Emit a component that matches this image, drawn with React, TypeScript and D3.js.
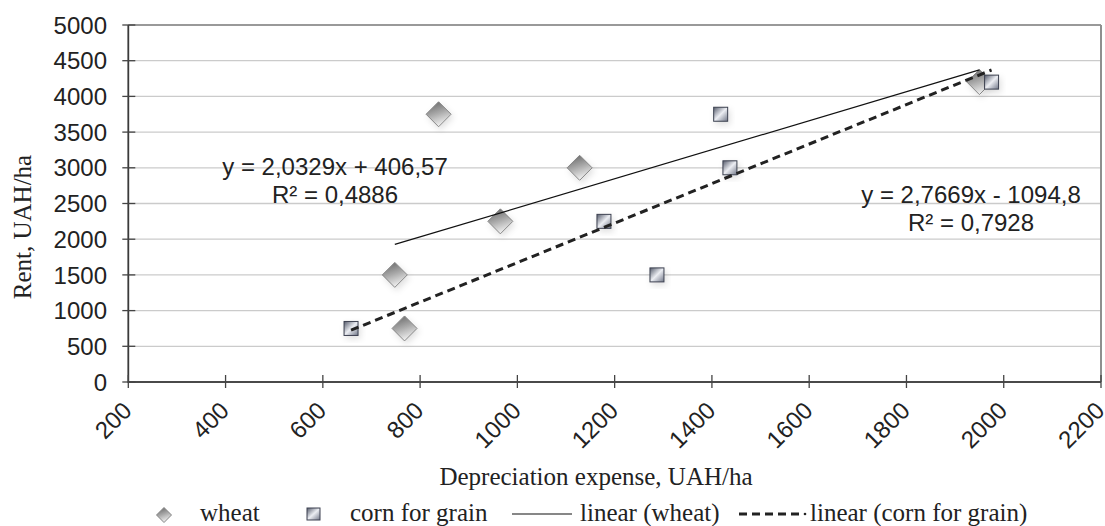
import React from "react";
import * as d3 from "d3";

// ---- data ----
const wheatX = [838, 1128, 965, 748, 768, 1950];
const wheatY = [3750, 3000, 2250, 1500, 750, 4200];
const cornX = [658, 1178, 1287, 1418, 1437, 1975];
const cornY = [750, 2250, 1500, 3750, 3000, 4200];
const wheatFit = { slope: 2.0329, intercept: 406.57, r2: "0,4886", eq: "y = 2,0329x + 406,57" };
const cornFit = { slope: 2.7669, intercept: -1094.8, r2: "0,7928", eq: "y = 2,7669x - 1094,8" };
const xTicks = [200, 400, 600, 800, 1000, 1200, 1400, 1600, 1800, 2000, 2200];
const yTicks = [0, 500, 1000, 1500, 2000, 2500, 3000, 3500, 4000, 4500, 5000];
const legendLabels = ["wheat", "corn for grain", "linear (wheat)", "linear (corn for grain)"];

const W = 1105, H = 526;
const M = { left: 128.3, right: 1101, top: 25, bottom: 382 };
const SANS = "'Liberation Sans', Arial, sans-serif";
const SERIF = "'Liberation Serif', 'Times New Roman', serif";

export default function App() {
  const x = d3.scaleLinear().domain([200, 2200]).range([M.left, M.right]);
  const y = d3.scaleLinear().domain([0, 5000]).range([M.bottom, M.top]);

  const wheat = wheatX.map((v, i) => [v, wheatY[i]]);
  const corn = cornX.map((v, i) => [v, cornY[i]]);

  const line = d3.line<number[]>().x(d => x(d[0])).y(d => y(d[1]));
  const fitPts = (xs: number[], f: { slope: number; intercept: number }) => {
    const [a, b] = d3.extent(xs) as [number, number];
    return [[a, f.slope * a + f.intercept], [b, f.slope * b + f.intercept]];
  };

  const diamond = (cx: number, cy: number, r: number) =>
    `M${cx},${cy - r}L${cx + r},${cy}L${cx},${cy + r}L${cx - r},${cy}Z`;

  return (
    <svg width={W} height={H} style={{ position: "absolute", left: 0, top: 0, background: "#fff" }}>
      <defs>
        <linearGradient id="gDia" x1="0" y1="0" x2="0.35" y2="1">
          <stop offset="0" stopColor="#5e5e5e" />
          <stop offset="0.55" stopColor="#a9a9a9" />
          <stop offset="1" stopColor="#ececec" />
        </linearGradient>
        <linearGradient id="gSq" x1="0" y1="0" x2="1" y2="1">
          <stop offset="0" stopColor="#545a6a" />
          <stop offset="0.5" stopColor="#eceef3" />
          <stop offset="1" stopColor="#707687" />
        </linearGradient>
        <filter id="shadow" x="-50%" y="-50%" width="200%" height="200%">
          <feDropShadow dx="2" dy="3" stdDeviation="3" floodColor="#000" floodOpacity="0.12" />
        </filter>
      </defs>

      {/* grid */}
      {yTicks.map(t => (
        <line key={"g" + t} x1={M.left} x2={M.right} y1={y(t)} y2={y(t)}
          stroke={t === 5000 ? "#999" : "#cbcbcb"} strokeWidth={t === 5000 ? 2 : 1.3} />
      ))}
      <line x1={M.right} x2={M.right} y1={M.top} y2={M.bottom} stroke="#8f8f8f" strokeWidth={2} />

      {/* axes */}
      <line x1={M.left} x2={M.left} y1={M.top} y2={M.bottom + 1} stroke="#3a3a3a" strokeWidth={1.8} />
      <line x1={M.left} x2={M.right} y1={M.bottom} y2={M.bottom} stroke="#4a4a4a" strokeWidth={2} />
      {yTicks.map(t => (
        <g key={"y" + t}>
          <line x1={M.left - 6} x2={M.left + 7} y1={y(t)} y2={y(t)} stroke="#444" strokeWidth={1.3} />
          <text x={107} y={y(t)} dy="0.36em" textAnchor="end" fontFamily={SANS} fontSize={24} fill="#222">{t}</text>
        </g>
      ))}
      {xTicks.map(t => (
        <g key={"x" + t}>
          <line x1={x(t)} x2={x(t)} y1={M.bottom - 7} y2={M.bottom + 6} stroke="#444" strokeWidth={1.3} />
          <text transform={`translate(${x(t) - 1},${M.bottom + 24}) rotate(-45)`} textAnchor="end" dy="0.35em"
            fontFamily={SANS} fontSize={24} fill="#222">{t}</text>
        </g>
      ))}

      {/* axis titles */}
      <text transform={`translate(31,227) rotate(-90)`} textAnchor="middle" fontFamily={SERIF} fontSize={25} fill="#222">Rent, UAH/ha</text>
      <text x={596} y={485} textAnchor="middle" fontFamily={SERIF} fontSize={25} fill="#222">Depreciation expense, UAH/ha</text>

      {/* points */}
      {wheat.map((d, i) => (
        <path key={"w" + i} d={diamond(x(d[0]), y(d[1]), 12.5)} fill="url(#gDia)" stroke="#858585" strokeWidth={1} filter="url(#shadow)" />
      ))}
      {corn.map((d, i) => (
        <rect key={"c" + i} x={x(d[0]) - 7} y={y(d[1]) - 7} width={14} height={14} fill="url(#gSq)" stroke="#3c4150" strokeWidth={1} filter="url(#shadow)" />
      ))}

      {/* trend lines */}
      <path d={line(fitPts(wheatX, wheatFit)) || ""} fill="none" stroke="#111" strokeWidth={1.2} />
      <path d={line(fitPts(cornX, cornFit)) || ""} fill="none" stroke="#222" strokeWidth={3} strokeDasharray="8,5" />

      {/* equations */}
      <text x={335} y={175} textAnchor="middle" fontFamily={SANS} fontSize={24} fill="#222">{wheatFit.eq}</text>
      <text x={335} y={203} textAnchor="middle" fontFamily={SANS} fontSize={24} fill="#222">{"R² = " + wheatFit.r2}</text>
      <text x={971} y={203} textAnchor="middle" fontFamily={SANS} fontSize={24} fill="#222">{cornFit.eq}</text>
      <text x={971} y={231} textAnchor="middle" fontFamily={SANS} fontSize={24} fill="#222">{"R² = " + cornFit.r2}</text>

      {/* legend */}
      <g fontFamily={SERIF} fontSize={25} fill="#222">
        <path d={diamond(164, 515, 7.5)} fill="url(#gDia)" stroke="#858585" strokeWidth={1} />
        <text x={200} y={521}>{legendLabels[0]}</text>
        <rect x={307} y={508} width={13} height={12} fill="url(#gSq)" stroke="#3c4150" strokeWidth={1} />
        <text x={350} y={521}>{legendLabels[1]}</text>
        <line x1={512} x2={572} y1={514} y2={514} stroke="#111" strokeWidth={1.2} />
        <text x={580} y={521}>{legendLabels[2]}</text>
        <line x1={739} x2={801} y1={514} y2={514} stroke="#222" strokeWidth={3} strokeDasharray="8,5" />
        <circle cx={805} cy={514} r={1.3} fill="#222" />
        <text x={810} y={521}>{legendLabels[3]}</text>
      </g>
    </svg>
  );
}
